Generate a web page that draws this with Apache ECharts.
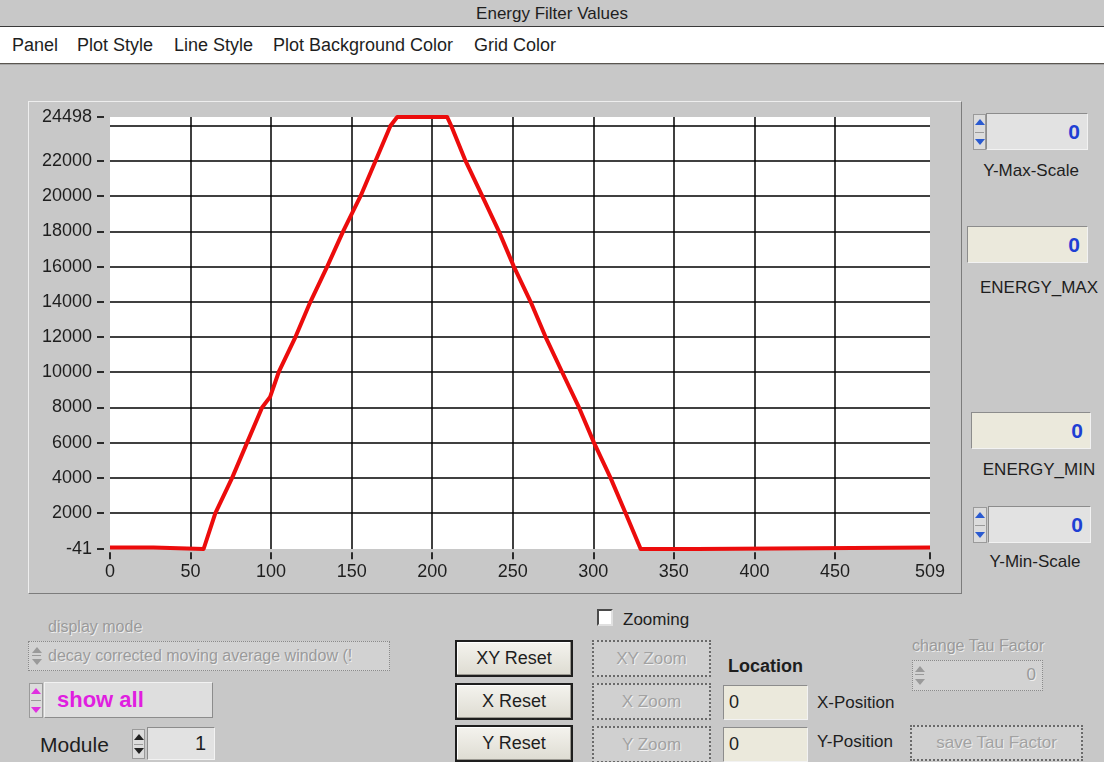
<!DOCTYPE html>
<html><head><meta charset="utf-8">
<script src="https://cdn.jsdelivr.net/npm/echarts@6/dist/echarts.min.js"></script>
<style>
html,body{margin:0;padding:0;width:1104px;height:762px;overflow:hidden;background:#c8c8c8;font-family:'Liberation Sans',Arial,sans-serif;color:#1e1e1e;}
.a{position:absolute;white-space:nowrap;box-sizing:border-box;}
.lbl{font-size:17px;line-height:20px;}
.num{background:#e2e2e2;border:1px solid;border-color:#8c8c8c #f2f2f2 #f2f2f2 #8c8c8c;text-align:right;padding-right:7px;font-weight:bold;color:#1f3fd4;font-size:21px;}
.cream{background:#ebe9dc;}
.btn{border:2px solid #1e1e1e;background:linear-gradient(#f4f3ee,#dedcd2);text-align:center;font-size:18px;box-shadow:inset -1px -1px 0 #9a9890, inset 1px 1px 0 #ffffff;}
.dis{border:2px dotted #6a6a6a;background:#d0d0d0;text-align:center;font-size:17px;color:#a2a2a2;text-shadow:1px 1px 0 #f0f0f0;}
.dtxt{color:#9a9a9a;text-shadow:1px 1px 0 #eeeeee;font-size:16px;}
.spin{background:#dcdcdc;border:1px solid #9a9a9a;}
.tri{position:absolute;left:50%;width:0;height:0;border-left:5px solid transparent;border-right:5px solid transparent;margin-left:-5px;}
</style></head><body>
<div class="a" style="left:0;top:0;width:1104px;height:26px;text-align:center;font-size:17px;line-height:27px;">Energy Filter Values</div>
<div class="a" style="left:0;top:26px;width:1104px;height:1px;background:#3a3a3a;"></div>
<div class="a" style="left:0;top:27px;width:1104px;height:36px;background:#ffffff;"></div>
<div class="a" style="left:0;top:63px;width:1104px;height:1px;background:#5a5650;"></div>
<div class="a" style="left:0;top:64px;width:1104px;height:1px;background:#a8a8a8;"></div>
<div class="a" style="left:12px;top:35px;font-size:18px;">Panel</div>
<div class="a" style="left:77px;top:35px;font-size:18px;">Plot Style</div>
<div class="a" style="left:174px;top:35px;font-size:18px;">Line Style</div>
<div class="a" style="left:273px;top:35px;font-size:18px;">Plot Background Color</div>
<div class="a" style="left:474px;top:35px;font-size:18px;">Grid Color</div>

<div class="a" style="left:28px;top:101px;width:934px;height:493px;border:1px solid;border-color:#eeeeee #7c7c7c #7c7c7c #eeeeee;">
  <div id="chart" style="position:absolute;left:0;top:0;width:932px;height:491px;"></div>
</div>

<div id="widgets"></div>

<script>
// ---------- data ----------
const xValues = [0, 27, 28, 58.1, 65.4, 75.8, 85.1, 94.4, 99.4, 104.7, 115.1, 124.4, 134.8, 144.7, 155.5, 164.8, 174.1, 178.3, 209.3, 211.8, 220.7, 231.1, 241.4, 250.7, 261.1, 270.4, 280.7, 291.1, 300.4, 310.7, 320.0, 329.4, 364, 365, 509];
const energyValues = [40, 40, -41, -41, 2000, 4000, 6000, 8000, 8600, 10000, 12000, 14000, 16000, 18000, 20000, 22000, 24000, 24498, 24498, 24000, 22000, 20000, 18000, 16000, 14000, 12000, 10000, 8000, 6000, 4000, 2000, -41, -41, 40, 40];
const xTickLabels = [0, 50, 100, 150, 200, 250, 300, 350, 400, 450, 509];
const yTickLabels = [-41, 2000, 4000, 6000, 8000, 10000, 12000, 14000, 16000, 18000, 20000, 22000, 24498];
const xGridLines = [50, 100, 150, 200, 250, 300, 350, 400, 450];
const yGridLines = [2000, 4000, 6000, 8000, 10000, 12000, 14000, 16000, 18000, 20000, 22000, 24000];
const xMin = 0, xMax = 509, yMin = -41, yMax = 24498;

const points = xValues.map((x, i) => [x, energyValues[i]]);
const font = 'Liberation Sans';
const plain = v => String(Math.round(v));

// plot rectangle (inside the chart container)
const P = {left: 81, top: 15, width: 820, height: 432};
const yTickGap = 6, xTickGap = 4;

const hiddenAxis = (type, gi, min, max) => ({
  type: type, gridIndex: gi, min: min, max: max, show: false,
  axisLine: {show: false}, axisTick: {show: false}, axisLabel: {show: false}, splitLine: {show: false}
});

const chart = echarts.init(document.getElementById('chart'), null, {renderer: 'canvas'});
chart.setOption({
  animation: false,
  grid: [
    // 0: the plot itself
    {left: P.left, top: P.top, width: P.width, height: P.height, show: true, backgroundColor: '#ffffff', borderWidth: 0},
    // 1: carries the y scale, its left edge a few pixels away from the plot
    {left: P.left - yTickGap, top: P.top, width: P.width + yTickGap, height: P.height, show: false},
    // 2: carries the x scale, its bottom edge a few pixels below the plot
    {left: P.left, top: P.top, width: P.width, height: P.height + xTickGap, show: false}
  ],
  xAxis: [
    hiddenAxis('value', 0, xMin, xMax),
    hiddenAxis('value', 1, xMin, xMax),
    {
      type: 'value', gridIndex: 2, min: xMin, max: xMax,
      axisLine: {show: false},
      axisTick: {show: true, length: 7, lineStyle: {color: '#2a2a2a', width: 2}, customValues: xTickLabels},
      axisLabel: {show: true, customValues: xTickLabels, formatter: plain, margin: 10, color: '#1e1e1e', fontSize: 18, fontFamily: font},
      splitLine: {show: false}
    }
  ],
  yAxis: [
    hiddenAxis('value', 0, yMin, yMax),
    {
      type: 'value', gridIndex: 1, min: yMin, max: yMax,
      axisLine: {show: false},
      axisTick: {show: true, length: 7, lineStyle: {color: '#2a2a2a', width: 2}, customValues: yTickLabels},
      axisLabel: {show: true, customValues: yTickLabels, formatter: plain, margin: 12, color: '#1e1e1e', fontSize: 18, fontFamily: font},
      splitLine: {show: false}
    },
    hiddenAxis('value', 2, yMin, yMax)
  ],
  series: [
    {
      type: 'line', xAxisIndex: 0, yAxisIndex: 0, data: points, z: 1, silent: true, showSymbol: false,
      lineStyle: {opacity: 0, width: 0},
      markLine: {
        silent: true, animation: false, symbol: ['none', 'none'], label: {show: false},
        emphasis: {disabled: true},
        lineStyle: {color: '#000000', width: 1.5, type: 'solid'},
        data: xGridLines.map(v => ({xAxis: v})).concat(yGridLines.map(v => ({yAxis: v})))
      }
    },
    {
      type: 'line', xAxisIndex: 0, yAxisIndex: 0, data: points, z: 5, showSymbol: false, clip: false, silent: true,
      lineStyle: {color: '#ec0c0c', width: 4, join: 'round'}
    }
  ]
});

// ---------- panel controls (HTML) ----------
const W = document.getElementById('widgets');
function el(cls, style, text) {
  const d = document.createElement('div');
  d.className = 'a ' + cls;
  d.setAttribute('style', style);
  if (text !== undefined) d.textContent = text;
  W.appendChild(d);
  return d;
}
function spinner(x, y, w, h, color, outline) {
  const s = el(outline ? '' : 'spin', `left:${x}px;top:${y}px;width:${w}px;height:${h}px;`);
  const up = document.createElement('div'); up.className = 'tri';
  up.style.top = Math.round(h * 0.12) + 'px';
  up.style.borderBottom = '6px solid ' + color;
  const dn = document.createElement('div'); dn.className = 'tri';
  dn.style.bottom = Math.round(h * 0.12) + 'px';
  dn.style.borderTop = '6px solid ' + color;
  const mid = document.createElement('div');
  mid.setAttribute('style', `position:absolute;left:1px;right:1px;top:${Math.floor(h/2)-1}px;height:1px;background:#9a9a9a;`);
  s.appendChild(up); s.appendChild(dn); s.appendChild(mid);
  return s;
}

// right column
spinner(973, 114, 13, 36, '#2a5ad0');
el('num', 'left:986px;top:113px;width:102px;height:37px;line-height:35px;', '0');
el('lbl', 'left:981px;top:161px;width:100px;text-align:center;', 'Y-Max-Scale');
el('num cream', 'left:967px;top:226px;width:121px;height:37px;line-height:35px;', '0');
el('lbl', 'left:974px;top:278px;width:130px;text-align:center;', 'ENERGY_MAX');
el('num cream', 'left:971px;top:412px;width:120px;height:37px;line-height:35px;', '0');
el('lbl', 'left:974px;top:460px;width:130px;text-align:center;', 'ENERGY_MIN');
spinner(973, 507, 14, 36, '#2a5ad0');
el('num', 'left:988px;top:506px;width:103px;height:37px;line-height:35px;', '0');
el('lbl', 'left:985px;top:552px;width:100px;text-align:center;', 'Y-Min-Scale');

// bottom-left
el('dtxt', 'left:48px;top:617px;line-height:20px;', 'display mode');
el('', 'left:28px;top:641px;width:362px;height:30px;border:1px dotted #8a8a8a;background:#d2d2d2;overflow:hidden;');
spinner(31, 644, 11, 24, '#9a9a9a', true);
el('dtxt', 'left:48px;top:646px;width:340px;overflow:hidden;line-height:20px;', 'decay corrected moving average window (!');
spinner(29, 683, 14, 35, '#e030e0');
el('', 'left:44px;top:682px;width:169px;height:36px;background:#dedede;border:1px solid;border-color:#f2f2f2 #8c8c8c #8c8c8c #f2f2f2;padding-left:12px;font-weight:bold;color:#e01ee0;font-size:22px;line-height:34px;', 'show all');
el('', 'left:40px;top:733px;font-size:21px;line-height:24px;', 'Module');
spinner(132, 729, 13, 30, '#222222');
el('', 'left:147px;top:727px;width:68px;height:33px;background:#e2e2e2;border:1px solid;border-color:#8c8c8c #f2f2f2 #f2f2f2 #8c8c8c;text-align:right;padding-right:8px;font-size:20px;line-height:31px;', '1');

// zoom controls
el('', 'left:597px;top:609px;width:16px;height:17px;background:#ffffff;border:2px solid;border-color:#4a4a4a #e0e0e0 #e0e0e0 #4a4a4a;');
el('lbl', 'left:623px;top:610px;', 'Zooming');
el('btn', 'left:455px;top:640px;width:118px;height:37px;line-height:33px;', 'XY Reset');
el('btn', 'left:455px;top:683px;width:118px;height:37px;line-height:33px;', 'X Reset');
el('btn', 'left:455px;top:725px;width:118px;height:37px;line-height:33px;', 'Y Reset');
el('dis', 'left:592px;top:640px;width:119px;height:37px;line-height:33px;', 'XY Zoom');
el('dis', 'left:592px;top:683px;width:119px;height:37px;line-height:33px;', 'X Zoom');
el('dis', 'left:592px;top:726px;width:119px;height:37px;line-height:33px;', 'Y Zoom');

// location
el('', 'left:728px;top:656px;font-weight:bold;font-size:18px;line-height:20px;', 'Location');
el('cream', 'left:723px;top:685px;width:85px;height:35px;border:1px solid;border-color:#8c8c8c #f2f2f2 #f2f2f2 #8c8c8c;padding-left:5px;font-size:18px;line-height:33px;', '0');
el('cream', 'left:723px;top:727px;width:85px;height:35px;border:1px solid;border-color:#8c8c8c #f2f2f2 #f2f2f2 #8c8c8c;padding-left:5px;font-size:18px;line-height:33px;', '0');
el('lbl', 'left:817px;top:693px;', 'X-Position');
el('lbl', 'left:817px;top:732px;', 'Y-Position');

// tau factor
el('dtxt', 'left:912px;top:636px;line-height:20px;', 'change Tau Factor');
el('', 'left:912px;top:660px;width:131px;height:31px;border:1px dotted #8a8a8a;background:#d2d2d2;');
spinner(914, 663, 11, 25, '#9a9a9a', true);
el('dtxt', 'left:930px;top:665px;width:106px;text-align:right;font-size:17px;line-height:20px;', '0');
el('dis', 'left:910px;top:725px;width:173px;height:36px;line-height:32px;', 'save Tau Factor');
</script>
</body></html>
